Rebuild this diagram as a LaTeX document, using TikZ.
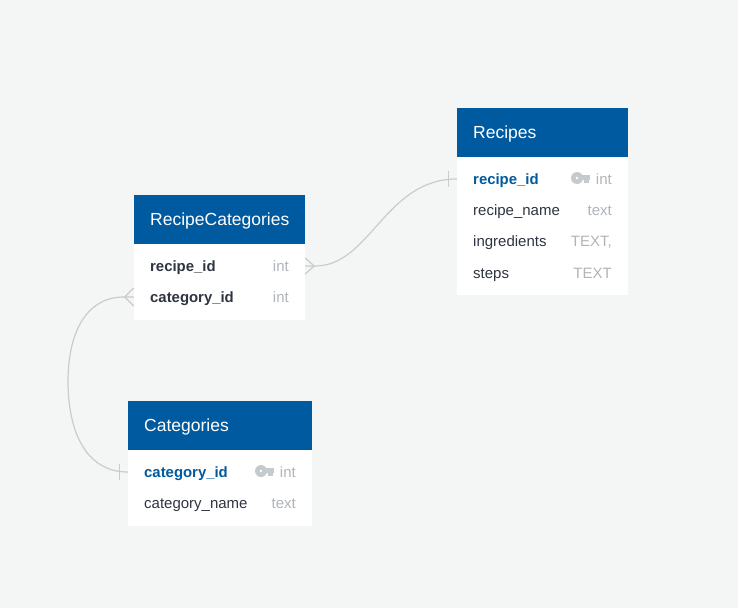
\documentclass[tikz,border=0pt]{standalone}
\usepackage{fontspec}
\setmainfont{Liberation Sans}
\definecolor{pagebg}{HTML}{F4F6F5}
\definecolor{headblue}{HTML}{005AA0}
\definecolor{keyblue}{HTML}{005A9E}
\definecolor{darktext}{HTML}{2F3540}
\definecolor{typegrey}{HTML}{B0B5BA}
\definecolor{keygrey}{HTML}{C5CACD}
\definecolor{linegrey}{HTML}{C9CCCB}
\tikzset{
  headbox/.style={fill=headblue,draw=none,minimum height=49.5pt,inner sep=0pt},
  headtext/.style={text=white,font=\fontsize{17.5}{21}\selectfont,anchor=west,inner sep=0pt},
  rowbox/.style={fill=white,draw=none,minimum height=31.3pt,inner sep=0pt},
  plainfield/.style={text=darktext,font=\fontsize{15}{17}\selectfont,anchor=base west,inner sep=0pt},
  boldfield/.style={text=darktext,font=\fontsize{14.9}{17}\selectfont\bfseries,anchor=base west,inner sep=0pt},
  keyfield/.style={text=keyblue,font=\fontsize{14.9}{17}\selectfont\bfseries,anchor=base west,inner sep=0pt},
  typefield/.style={text=typegrey,font=\fontsize{15}{17}\selectfont,anchor=base east,inner sep=0pt},
  conn/.style={draw=linegrey,line width=1.2pt},
}
% small key icon, bow to the left
\newcommand{\keyicon}[1]{
  \fill[keygrey,even odd rule] (#1) ++(-8,0) circle (6pt) ++(0,0) circle (1.6pt);
  \fill[keygrey] (#1) ++(-4,-2.8) rectangle ++(9,5.2);
  \fill[keygrey] (#1) ++(-1,2) rectangle ++(4.5,2.6);
}
\begin{document}
\begin{tikzpicture}[x=1pt,y=-1pt]
  \useasboundingbox (0,0) rectangle (738,608);
  \fill[pagebg] (0,0) rectangle (738,608);

  % Recipes
  \fill[white] (457,157) rectangle (628,295);
  \node[headbox,minimum width=171.5pt] (recipes) at (542.5,132.5) {};
  \node[headtext] (recipestitle) at (473,133.5) {Recipes};
  \foreach \nm/\yy in {rrid/179,rrname/210,ringr/241,rsteps/273}
    \node[rowbox,minimum width=171pt] (\nm) at (542.5,\yy) {};
  \node[keyfield] at (473,184) {recipe\_id};
  \node[plainfield] at (473,215) {recipe\_name};
  \node[plainfield] at (473,246) {ingredients};
  \node[plainfield] at (473,278) {steps};
  \node[typefield] at (612,184) {int};
  \node[typefield] at (612,215) {text};
  \node[typefield] at (612,246) {TEXT,};
  \node[typefield] at (612,278) {TEXT};
  \keyicon{585,178}

  % RecipeCategories
  \fill[white] (134,244) rectangle (305,320);
  \node[headbox,minimum width=171.5pt] (reccat) at (219.5,219.5) {};
  \node[headtext] (reccattitle) at (150,220.5) {RecipeCategories};
  \foreach \nm/\yy in {crid/266,ccid/297}
    \node[rowbox,minimum width=171pt] (\nm) at (219.5,\yy) {};
  \node[boldfield] at (150,271) {recipe\_id};
  \node[boldfield] at (150,302) {category\_id};
  \node[typefield] at (289,271) {int};
  \node[typefield] at (289,302) {int};

  % Categories
  \fill[white] (128,450) rectangle (312,526);
  \node[headbox,minimum width=184.5pt] (categories) at (220,425.5) {};
  \node[headtext] (categoriestitle) at (144,426.5) {Categories};
  \foreach \nm/\yy in {kcid/472,kcname/503}
    \node[rowbox,minimum width=184pt] (\nm) at (220,\yy) {};
  \node[keyfield] at (144,477) {category\_id};
  \node[plainfield] at (144,508) {category\_name};
  \node[typefield] at (296,477) {int};
  \node[typefield] at (296,508) {text};
  \keyicon{269,471}

  % links
  \draw[conn] (crid.east) -- +(10,0) .. controls +(55,0) and (385,179) .. (rrid.west);
  \draw[conn] (ccid.west) -- +(-10,0) .. controls (85,297) and (68,335) .. (68,381)
    .. controls (68,430) and (85,472) .. (kcid.west);

  % crow's feet
  \draw[conn] (crid.east) ++(9,0) -- ++(-9,-8);
  \draw[conn] (crid.east) ++(9,0) -- ++(-9,8);
  \draw[conn] (ccid.west) ++(-9,0) -- ++(9,-9);
  \draw[conn] (ccid.west) ++(-9,0) -- ++(9,9);

  % single ticks
  \draw[conn] (rrid.west) ++(-8,-8) -- ++(0,16);
  \draw[conn] (kcid.west) ++(-8,-8) -- ++(0,16);
\end{tikzpicture}
\end{document}
